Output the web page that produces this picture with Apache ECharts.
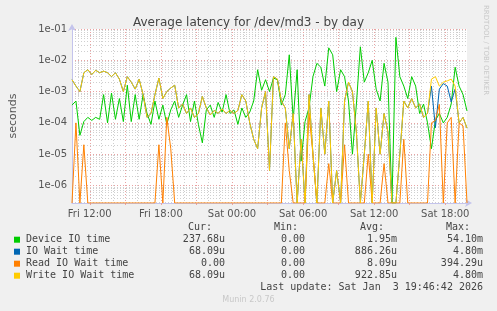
<!DOCTYPE html>
<html><head><meta charset="utf-8">
<script src="https://cdn.jsdelivr.net/npm/echarts@6/dist/echarts.min.js"></script>
<style>html,body{margin:0;padding:0;background:#F0F0F0;}#c{width:497px;height:311px;}</style>
</head><body><div id="c"></div>
<script>
// ---- data ----
const seriesNames = ['Device IO time', 'IO Wait time', 'Read IO Wait time', 'Write IO Wait time'];
const seriesColors = ['#00CC00', '#0066B3', '#FF8000', '#FFCC00'];
const startHour = 10.5;      // Fri 10:30 (hours since Fri 00:00)
const endHour = 43.8333;     // Sat 19:50
const stepHours = 1 / 3;     // one sample every 20 minutes

const device = [
 3.7e-4, 5e-4, 4e-5, 1.1e-4, 1.5e-4, 1.2e-4, 1.5e-4, 1.3e-4, 8e-4, 1e-4,
 9e-4, 1.3e-4, 6e-4, 1.1e-4, 1.6e-3, 1.1e-4, 8e-4, 1.3e-4, 8e-4, 2e-4,
 9e-5, 5e-4, 1.3e-4, 3.7e-4, 9e-5, 2.6e-4, 5e-4, 1.5e-4, 3.7e-4, 8e-4,
 1.1e-4, 5e-4, 9e-5, 2.3e-5, 2.6e-4, 3.7e-4, 1.5e-4, 4.5e-4, 2.2e-4, 8e-4,
 2e-4, 2.6e-4, 9e-5, 3e-4, 1.5e-4, 2.2e-4, 5e-4, 5e-3, 1.1e-3, 2.4e-3,
 1e-3, 2.7e-3, 2.4e-3, 3.7e-4, 8e-4, 1.5e-2, 1.3e-4, 5e-3, 6e-6, 1.1e-4,
 3e-4, 3e-3, 8e-3, 6e-3, 1.5e-3, 2.5e-2, 1.5e-2, 1e-3, 5e-3, 3e-3,
 5e-4, 1e-5, 4e-4, 2.7e-2, 2e-3, 4e-3, 1e-2, 1.2e-3, 5e-4, 8e-3,
 2e-3, 0, 5.4e-2, 3e-3, 1.5e-3, 6e-4, 3e-3, 1.5e-3, 2e-4, 4e-4,
 1e-4, 1.5e-5, 1.2e-4, 2e-4, 1e-4, 1.5e-4, 4e-4, 6e-3, 1.5e-3, 8e-4,
 2.4e-4
];
const writeWait = [
 2.4e-3, 1.5e-3, 1e-3, 4e-3, 5e-3, 3.5e-3, 4.8e-3, 4e-3, 4.5e-3, 4e-3,
 3e-3, 4e-3, 2.5e-3, 1e-3, 3e-3, 2e-3, 1.2e-3, 2.5e-3, 8e-4, 1.5e-4,
 2e-4, 8e-4, 2.7e-3, 6e-4, 1e-3, 1.3e-3, 1.6e-3, 3e-4, 4e-4, 2e-4,
 3e-4, 1.5e-4, 2e-4, 7e-4, 3e-4, 1.8e-4, 2.5e-4, 2e-4, 2.8e-4, 2e-4,
 2.5e-4, 2e-4, 2.5e-4, 8e-4, 5e-4, 1e-4, 3e-5, 1.5e-5, 3e-4, 1e-3,
 3e-6, 3e-3, 2.5e-3, 5e-4, 3e-4, 1.5e-5, 2e-4, 0, 3e-5, 0,
 8e-4, 1e-5, 0, 3e-4, 1e-5, 5e-4, 0, 3e-6, 0, 5e-4,
 2e-3, 1e-3, 5e-5, 0, 1e-5, 5e-4, 0, 3e-4, 1e-5, 2e-4,
 5e-5, 0, 0, 1e-5, 5e-4, 3e-4, 6e-4, 3e-4, 4e-4, 1.5e-4,
 2e-4, 2.5e-3, 3e-3, 1.5e-3, 2e-3, 2.2e-3, 2.5e-3, 1.5e-3, 1e-4, 1.5e-4,
 6.8e-5
];
const ioWait = [
 2.4e-3, 1.5e-3, 1e-3, 4e-3, 5e-3, 3.5e-3, 4.8e-3, 4e-3, 4.5e-3, 4e-3,
 3e-3, 4e-3, 2.5e-3, 1e-3, 3e-3, 2e-3, 1.2e-3, 2.5e-3, 8e-4, 1.5e-4,
 2e-4, 8e-4, 2.7e-3, 6e-4, 1e-3, 1.3e-3, 1.6e-3, 3e-4, 4e-4, 2e-4,
 3e-4, 1.5e-4, 2e-4, 7e-4, 3e-4, 1.8e-4, 2.5e-4, 2e-4, 2.8e-4, 2e-4,
 2.5e-4, 2e-4, 2.5e-4, 8e-4, 5e-4, 1e-4, 3e-5, 1.5e-5, 3e-4, 1e-3,
 3e-6, 3e-3, 2.5e-3, 5e-4, 3e-4, 1.5e-5, 2e-4, 0, 3e-5, 0,
 8e-4, 1e-5, 0, 3e-4, 1e-5, 5e-4, 0, 3e-6, 0, 5e-4,
 2e-3, 1e-3, 5e-5, 0, 1e-5, 5e-4, 0, 3e-4, 1e-5, 2e-4,
 5e-5, 0, 0, 1e-5, 5e-4, 3e-4, 6e-4, 3e-4, 4e-4, 1.5e-4,
 2e-4, 1.5e-3, 7e-5, 1.2e-3, 1.8e-3, 1.5e-3, 4.7e-4, 1.2e-3, 1e-4, 1.5e-4,
 6.8e-5
];
const readWait = [
 0, 1e-4, 0, 2e-5, 0, 0, 0, 0, 0, 0,
 0, 0, 0, 0, 0, 0, 0, 0, 0, 0,
 0, 0, 2e-5, 0, 1.5e-4, 1.5e-5, 0, 0, 0, 0,
 0, 0, 0, 0, 0, 0, 0, 0, 0, 0,
 0, 0, 0, 0, 0, 0, 0, 0, 0, 0,
 0, 0, 0, 0, 1e-4, 3e-6, 0, 0, 0, 0,
 2e-4, 1e-5, 0, 0, 0, 5e-6, 0, 0, 0, 2e-5,
 0, 0, 0, 0, 0, 1e-5, 0, 0, 0, 5e-6,
 0, 0, 0, 0, 3e-5, 0, 0, 0, 0, 0,
 0, 1e-4, 1.2e-4, 3.9e-4, 0, 1e-4, 1.5e-4, 0, 1e-4, 8e-5,
 0
];

const xLabelHours = [12, 18, 24, 30, 36, 42];
const xLabelTexts = ['Fri 12:00', 'Fri 18:00', 'Sat 00:00', 'Sat 06:00', 'Sat 12:00', 'Sat 18:00'];
const yLabelExps = [-6, -5, -4, -3, -2, -1];
const yLabelTexts = ['1e-06', '1e-05', '1e-04', '1e-03', '1e-02', '1e-01'];

const statHeaders = ['Cur:', 'Min:', 'Avg:', 'Max:'];
const statCur = ['237.68u', '68.09u', '0.00', '68.09u'];
const statMin = ['0.00', '0.00', '0.00', '0.00'];
const statAvg = ['1.95m', '886.26u', '8.09u', '922.85u'];
const statMax = ['54.10m', '4.80m', '394.29u', '4.80m'];
const lastUpdate = 'Last update: Sat Jan  3 19:46:42 2026';
const titleText = 'Average latency for /dev/md3 - by day';

// ---- build ----
const yMin = -6.56, yMax = -1;
function toLog(v) { return v > 0 ? Math.log10(v) : yMin; }
function pts(arr) { return arr.map((v, i) => [startHour + i * stepHours, toLog(v)]); }

const majorX = [], minorX = [];
for (let h = Math.ceil(startHour); h <= endHour; h++) { (h % 3 === 0 ? majorX : minorX).push(h); }
const minorY = [];
for (let d = -7; d <= -2; d++) for (let k = 2; k <= 9; k++) {
  const v = d + Math.log10(k); if (v > yMin && v < yMax) minorY.push(v);
}

const gridMajor = '#E9A3A3', gridMinor = '#CFCFCF';
const axisCol = '#C4C4EC';
const chart = echarts.init(document.getElementById('c'), null, { renderer: 'canvas' });

const allSeries = [device, ioWait, readWait, writeWait].map((arr, k) => ({
  type: 'line', name: seriesNames[k], data: pts(arr), xAxisIndex: 1, yAxisIndex: 1,
  showSymbol: false, symbol: 'none', clip: true, animation: false, z: 3 + k,
  lineStyle: { width: 1, color: seriesColors[k] }, itemStyle: { color: seriesColors[k] }
}));

const graphics = [];
graphics.push({ type: 'text', x: 486, y: 5, rotation: -Math.PI / 2,
  style: { text: 'RRDTOOL / TOBI OETIKER', font: '7px "DejaVu Sans"', fill: '#C8C8C8', textAlign: 'left', textVerticalAlign: 'middle' } });
const colRight = [212, 298, 384, 470];
const valRight = [225, 305, 397, 483];
const mono = '10px "DejaVu Sans Mono"';
statHeaders.forEach((h, j) => graphics.push({ type: 'text', x: colRight[j], y: 227.5,
  style: { text: h, font: mono, fill: '#444', textAlign: 'right', textVerticalAlign: 'middle' } }));
const cols = [statCur, statMin, statAvg, statMax];
seriesNames.forEach((n, r) => {
  const yy = 239.7 + r * 12;
  graphics.push({ type: 'rect', shape: { x: 14, y: yy - 3, width: 6, height: 6 }, style: { fill: seriesColors[r] } });
  graphics.push({ type: 'text', x: 26, y: yy, style: { text: n, font: mono, fill: '#444', textAlign: 'left', textVerticalAlign: 'middle' } });
  cols.forEach((c, j) => graphics.push({ type: 'text', x: valRight[j], y: yy,
    style: { text: c[r], font: mono, fill: '#444', textAlign: 'right', textVerticalAlign: 'middle' } }));
});
graphics.push({ type: 'text', x: 483, y: 287.7, style: { text: lastUpdate, font: mono, fill: '#444', textAlign: 'right', textVerticalAlign: 'middle' } });
graphics.push({ type: 'text', x: 248.5, y: 300, style: { text: 'Munin 2.0.76', font: '8px "DejaVu Sans"', fill: '#C8C8C8', textAlign: 'center', textVerticalAlign: 'middle' } });

chart.setOption({
  backgroundColor: '#F0F0F0',
  animation: false,
  title: { text: titleText, left: 'center', top: 12,
    textStyle: { fontSize: 12, fontWeight: 'normal', color: '#444', fontFamily: 'DejaVu Sans' } },
  grid: { left: 67, top: 29, width: 400, height: 174, show: true, backgroundColor: '#FFFFFF', borderWidth: 0 },
  xAxis: [
    { type: 'value', min: startHour, max: endHour, position: 'bottom',
      axisLine: { show: false }, axisTick: { show: false, customValues: minorX }, axisLabel: { show: false },
      splitLine: { show: true, lineStyle: { color: gridMinor, type: [1, 2], width: 1 } } },
    { type: 'value', min: startHour, max: endHour, position: 'bottom',
      axisLine: { show: true, onZero: false, lineStyle: { color: axisCol, width: 1 }, symbol: ['none', 'arrow'], symbolSize: [6, 7], symbolOffset: [0, 5] },
      axisTick: { show: true, customValues: majorX, length: 2, lineStyle: { color: gridMajor } },
      axisLabel: { customValues: xLabelHours, margin: 6, color: '#555', fontSize: 10, fontFamily: 'DejaVu Sans',
        formatter: v => xLabelTexts[xLabelHours.indexOf(Math.round(v))] || '' },
      splitLine: { show: true, lineStyle: { color: gridMajor, type: [1, 2], width: 1 } } }
  ],
  yAxis: [
    { type: 'value', min: yMin, max: yMax, position: 'left',
      axisLine: { show: false }, axisTick: { show: false, customValues: minorY }, axisLabel: { show: false },
      splitLine: { show: true, lineStyle: { color: gridMinor, type: [1, 2], width: 1 } } },
    { type: 'value', min: yMin, max: yMax, position: 'left',
      name: 'seconds', nameLocation: 'middle', nameRotate: 90, nameGap: 53,
      nameTextStyle: { color: '#555', fontSize: 11, fontFamily: 'DejaVu Sans' },
      axisLine: { show: true, lineStyle: { color: axisCol, width: 1 }, symbol: ['none', 'arrow'], symbolSize: [6, 7], symbolOffset: [0, 5] },
      axisTick: { show: false, customValues: yLabelExps },
      axisLabel: { customValues: yLabelExps, margin: 5, color: '#555', fontSize: 10, fontFamily: 'DejaVu Sans',
        formatter: v => yLabelTexts[yLabelExps.indexOf(Math.round(v))] || '' },
      splitLine: { show: true, lineStyle: { color: gridMajor, type: [1, 2], width: 1 } } }
  ],
  series: allSeries,
  graphic: { elements: graphics }
});
</script></body></html>
